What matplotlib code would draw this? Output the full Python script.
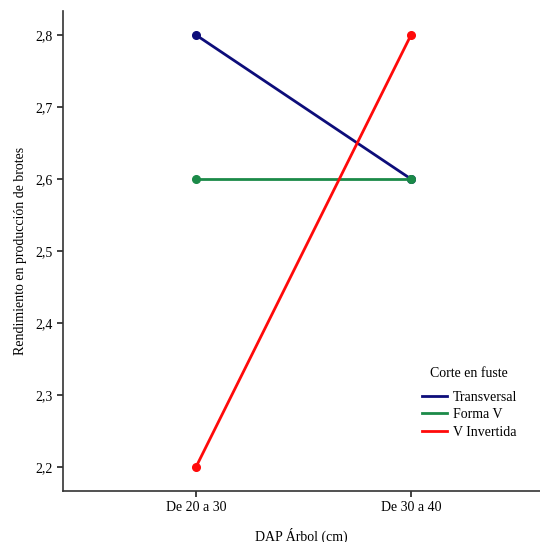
import matplotlib
matplotlib.use("Agg")
import matplotlib.pyplot as plt
from matplotlib.lines import Line2D

categories = ["De 20 a 30", "De 30 a 40"]
series_names = ["Transversal", "Forma V", "V Invertida"]
transversal = [2.8, 2.6]
forma_v = [2.6, 2.6]
v_invertida = [2.2, 2.8]
y_ticks = [2.2, 2.3, 2.4, 2.5, 2.6, 2.7, 2.8]

plt.rcParams['font.family'] = ['Liberation Serif', 'DejaVu Serif']

fig = plt.figure(figsize=(5.4, 5.42), dpi=100)
W, H = 540, 542
ax = fig.add_axes([63 / W, 1 - 491 / H, (W - 63) / W, (491 - 11) / H])

colors = ["#0d0d7a", "#1b8a48", "#ff0a0a"]
xs = list(range(len(categories)))
handles = []
for vals, name, c in zip([transversal, forma_v, v_invertida], series_names, colors):
    ax.plot(xs, vals, color=c, lw=2, marker='o', ms=5.5)
    handles.append(Line2D([], [], color=c, lw=2, label=name))

ax.set_xlim((63 - 196) / 215, (540 - 196) / 215)
ax.set_ylim(2.2 - 24 / 720, 2.8 + 24 / 720)
ax.set_xticks(xs)
ax.set_xticklabels(categories)
ax.set_yticks(y_ticks)
ax.set_yticklabels([f"{v:.1f}".replace('.', ',') for v in y_ticks])
ax.tick_params(axis='both', labelsize=10, length=4, width=1.2, color='#222222')
for s in ['top', 'right']:
    ax.spines[s].set_visible(False)
for s in ['left', 'bottom']:
    ax.spines[s].set_linewidth(1.2)
    ax.spines[s].set_color('#333333')

ax.set_xlabel("DAP Árbol (cm)", fontsize=10, labelpad=10)
ax.set_ylabel("Rendimiento en producción de brotes", fontsize=10, labelpad=6)

leg = ax.legend(handles=handles, title="Corte en fuste", loc='upper left',
                bbox_to_anchor=(346 / 477, (491 - 354) / 480),
                frameon=False, fontsize=10, title_fontsize=10, handlelength=1.8,
                handletextpad=0.45, labelspacing=0.3)
leg._legend_box.align = "center"
leg._legend_box.sep = 8.4

fig.savefig("out.png", dpi=100)
